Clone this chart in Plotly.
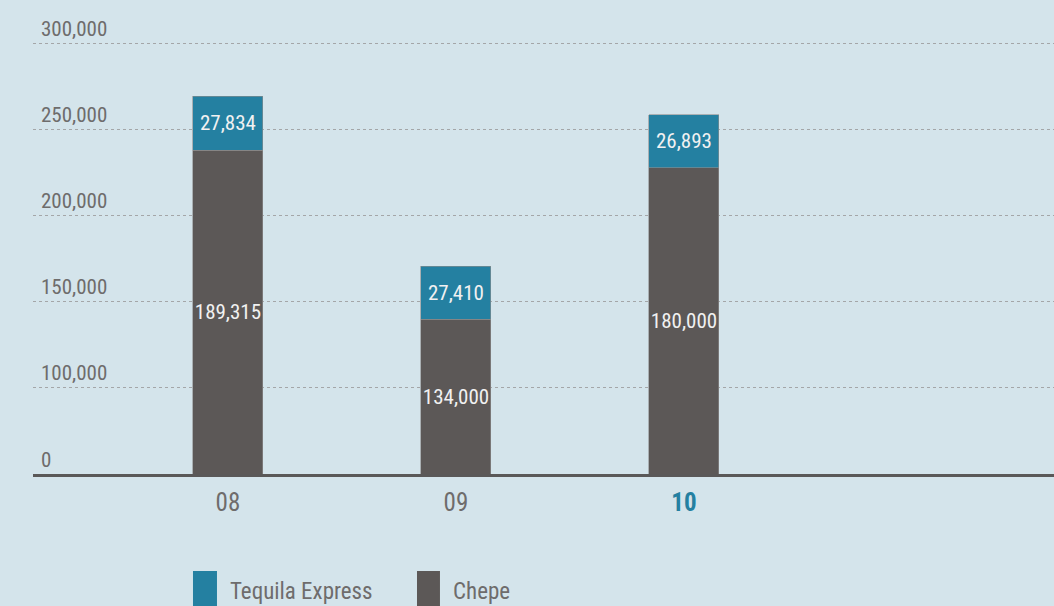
import plotly.graph_objects as go

# ---- data ----
years = ["08", "09", "10"]
chepe_labels = ["189,315", "134,000", "180,000"]        # printed values
tequila_labels = ["27,834", "27,410", "26,893"]
# bar heights as drawn in the reference (segments are not drawn to the printed values)
chepe_drawn = [187900, 89900, 177700]
tequila_drawn = [31300, 30700, 30600]
# gridline slots and the text the reference prints next to them
ytick_slots = [0, 50000, 100000, 150000, 200000, 250000]
ytick_text = ["0", "100,000", "150,000", "200,000", "250,000", "300,000"]

FONT = "Liberation Sans Narrow, Roboto Condensed, DejaVu Sans Condensed, sans-serif"
BG = "#d4e4eb"
BLUE = "#2480a1"
DARK = "#5c5857"
GREY_TXT = "#6e6c6c"

x = list(range(len(years)))

fig = go.Figure()
fig.add_trace(go.Bar(
    x=x, y=chepe_drawn, name="Chepe", marker=dict(color=DARK, line=dict(color="#8d8d8d", width=0.6)),
    text=chepe_labels, textposition="inside", insidetextanchor="middle", textangle=0,
    constraintext="none",
    textfont=dict(family=FONT, size=21, color="#f1f1f1"), width=0.307, showlegend=False,
    hoverinfo="skip"))
fig.add_trace(go.Bar(
    x=x, y=tequila_drawn, name="Tequila Express", marker=dict(color=BLUE, line=dict(color="#8d8d8d", width=0.6)),
    text=tequila_labels, textposition="inside", insidetextanchor="middle", textangle=0,
    constraintext="none",
    textfont=dict(family=FONT, size=21, color="#f1f1f1"), width=0.307, showlegend=False,
    hoverinfo="skip"))

xt = [f"<span style='color:{GREY_TXT}'>{y}</span>" for y in years[:-1]] + \
     [f"<b><span style='color:{BLUE}'>{years[-1]}</span></b>"]

fig.update_layout(
    barmode="stack",
    width=1054, height=606,
    margin=dict(l=33, r=0, t=8, b=132),
    paper_bgcolor=BG, plot_bgcolor=BG,
    font=dict(family=FONT, size=21, color=GREY_TXT),
    xaxis=dict(range=[-0.855, 3.623], tickvals=x, ticktext=xt, showgrid=False, zeroline=False,
               showline=True, linecolor="#5a5858", linewidth=2.5,
               ticks="outside", ticklen=4, tickcolor="rgba(0,0,0,0)",
               tickfont=dict(family=FONT, size=25)),
    yaxis=dict(range=[0, 270300], tickvals=ytick_slots, ticktext=ytick_text,
               showgrid=True, gridcolor="#a4a6a8", griddash="dot", gridwidth=1,
               zeroline=False, showline=False, ticks="",
               ticklabelposition="inside top", ticklabelstandoff=5,
               tickfont=dict(family=FONT, size=21, color=GREY_TXT)),
)

# custom legend (large square keys, cut by the bottom edge like the reference)
legend_items = [("Tequila Express", BLUE, 0.1567, 0.1802, 0.191),
                ("Chepe", DARK, 0.3761, 0.3986, 0.4094)]
ph = 474 - 8
for label, col, x0, x1, xt0 in legend_items:
    fig.add_shape(type="rect", xref="paper", yref="paper", x0=x0, x1=x1,
                  y0=(474 - 640) / ph, y1=(474 - 571) / ph,
                  fillcolor=col, line=dict(width=0), layer="above")
    fig.add_annotation(xref="paper", yref="paper", x=xt0, y=(474 - 591) / ph, text=label, showarrow=False,
                       xanchor="left", yanchor="middle", font=dict(family=FONT, size=23, color=GREY_TXT))

fig.write_html("out.html", config={"displayModeBar": False},
               post_script="document.body.style.margin='0';document.body.style.overflow='hidden';")
